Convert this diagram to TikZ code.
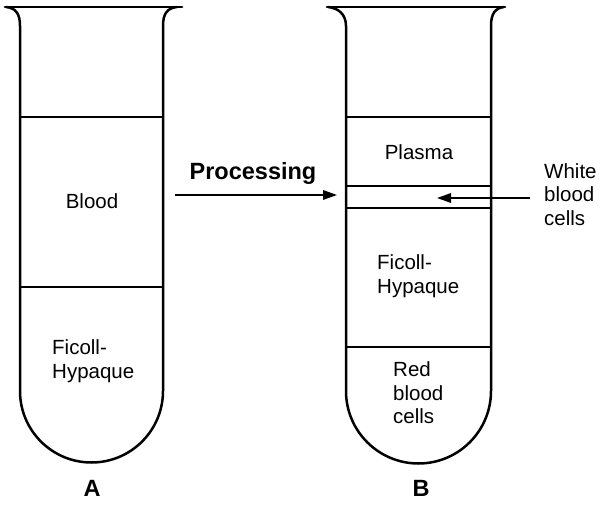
\documentclass[tikz,border=0pt]{standalone}
\usepackage{fontspec}
\setmainfont{Liberation Sans}
\usepackage{tikz}
\usetikzlibrary{arrows.meta,positioning,calc}

\tikzset{
  tube/.style={line width=2.5pt,line join=round},
  rim/.style={line width=2.8pt,line cap=round},
  layer/.style={line width=1.9pt},
  lbl/.style={inner sep=0pt,font=\fontsize{20.5}{23.5}\selectfont},
  ttl/.style={inner sep=0pt,font=\fontsize{23.5}{26}\selectfont\bfseries},
  pointer/.style={line width=1.8pt,-{Triangle[length=14pt,width=9.5pt]}}
}

\begin{document}
\begin{tikzpicture}[x=1pt,y=1pt]
      \useasboundingbox (0,0) rectangle (600,504);

      % tube A
      \draw[tube] (6,497) .. controls (16,496) and (20,490) .. (20,478)
        -- (20,113) arc[start angle=180,end angle=360,radius=71.5]
        -- (163,478) .. controls (163,490) and (167,496) .. (177,497);
      \draw[rim] (5,497) -- (182,497);
      \draw[layer] (20,387) -- (163,387);
      \draw[layer] (20,217) -- (163,217);

      % tube B
      \draw[tube] (328,497) .. controls (338,496) and (346,490) .. (346,478)
        -- (346,113) arc[start angle=180,end angle=360,radius=72.5]
        -- (491,478) .. controls (491,490) and (495,496) .. (504,497);
      \draw[rim] (327,497) -- (505,497);
      \draw[layer] (346,387) -- (491,387);
      \draw[layer] (346,318) -- (491,318);
      \draw[layer] (346,296) -- (491,296);
      \draw[layer] (346,157) -- (491,157);

      % labels
      \node[lbl](blood) at (92,303){Blood};
      \node[lbl,align=left,anchor=west](ficollA) at (52,143){Ficoll-\\Hypaque};
      \node[lbl](plasma) at (419,352){Plasma};
      \node[lbl,align=left,anchor=west](ficollB) at (377,228){Ficoll-\\Hypaque};
      \node[lbl,align=left,anchor=west](rbc) at (393,111){Red\\blood\\cells};
      \node[lbl,align=left,anchor=west](wbc) at (544,309.5){White\\blood\\cells};
      \node[ttl](proc) at (253,330.5){Processing};
      \node[ttl](tubeA) at (92,15.5){A};
      \node[ttl](tubeB) at (421,15.5){B};

      % arrows
      \coordinate(procstart) at (175,309);
      \coordinate(procend) at (337,309);
      \coordinate(wbcstart) at (530,306);
      \coordinate(wbcend) at (437,306);
      \draw[pointer] (procstart) -- (procend);
      \draw[pointer] (wbcstart) -- (wbcend);

    \end{tikzpicture}
\end{document}
